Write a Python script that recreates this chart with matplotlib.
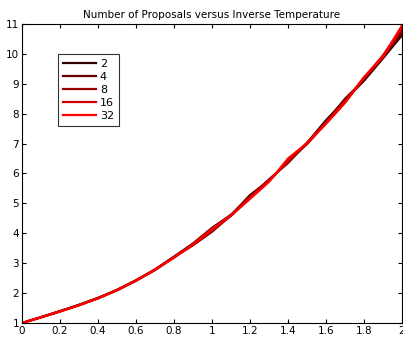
import matplotlib
matplotlib.use("Agg")
import matplotlib.pyplot as plt
import numpy as np

beta = [0.0, 0.1, 0.2, 0.3, 0.4, 0.5, 0.6, 0.7, 0.8, 0.9, 1.0,
        1.1, 1.2, 1.3, 1.4, 1.5, 1.6, 1.7, 1.8, 1.9, 2.0]

series_labels = ["2", "4", "8", "16", "32"]
series_colors = ["#330000", "#660000", "#990000", "#cc0000", "#ff0000"]

vals_2 = [1.00, 1.19, 1.39, 1.60, 1.83, 2.11, 2.43, 2.79, 3.22, 3.66, 4.18,
          4.62, 5.22, 5.80, 6.35, 7.02, 7.78, 8.45, 9.10, 9.85, 10.62]
vals_4 = [1.00, 1.19, 1.39, 1.61, 1.84, 2.10, 2.42, 2.78, 3.20, 3.60, 4.05,
          4.60, 5.28, 5.76, 6.40, 7.00, 7.72, 8.50, 9.12, 9.88, 10.70]
vals_8 = [1.00, 1.20, 1.40, 1.60, 1.83, 2.10, 2.41, 2.77, 3.19, 3.63, 4.12,
          4.58, 5.18, 5.74, 6.42, 6.98, 7.68, 8.38, 9.18, 9.92, 10.78]
vals_16 = [1.00, 1.19, 1.39, 1.60, 1.82, 2.09, 2.42, 2.78, 3.21, 3.61, 4.08,
           4.61, 5.20, 5.78, 6.38, 7.03, 7.70, 8.42, 9.20, 9.95, 10.88]
vals_32 = [1.00, 1.19, 1.38, 1.59, 1.83, 2.10, 2.42, 2.79, 3.18, 3.64, 4.15,
           4.60, 5.15, 5.72, 6.50, 7.01, 7.66, 8.36, 9.22, 9.90, 10.95]

all_vals = [vals_2, vals_4, vals_8, vals_16, vals_32]

fig = plt.figure(figsize=(4.03, 3.38), dpi=100)
ax = fig.add_axes([0.0546, 0.0444, 0.943, 0.885])

for v, lab, c in zip(all_vals, series_labels, series_colors):
    ax.plot(beta, v, color=c, lw=1.6, label=lab)

ax.set_xlim(0, 2)
ax.set_ylim(1, 11)
ax.set_xticks(np.arange(0, 2.01, 0.2))
ax.set_xticklabels(["0", "0.2", "0.4", "0.6", "0.8", "1", "1.2", "1.4", "1.6", "1.8", "2"])
ax.set_yticks(range(1, 12))
ax.tick_params(direction="in", top=True, right=True, labelsize=7.5, length=3, pad=2)
for s in ax.spines.values():
    s.set_linewidth(0.8)
ax.set_title("Number of Proposals versus Inverse Temperature", fontsize=7.5, pad=4)

leg = ax.legend(loc="upper left", bbox_to_anchor=(0.095, 0.90), fontsize=8,
                frameon=True, fancybox=False, edgecolor="black", handlelength=3.0,
                handletextpad=0.3, borderpad=0.45, labelspacing=0.28, borderaxespad=0)
leg.get_frame().set_linewidth(0.8)

fig.savefig("out.png", dpi=100)
